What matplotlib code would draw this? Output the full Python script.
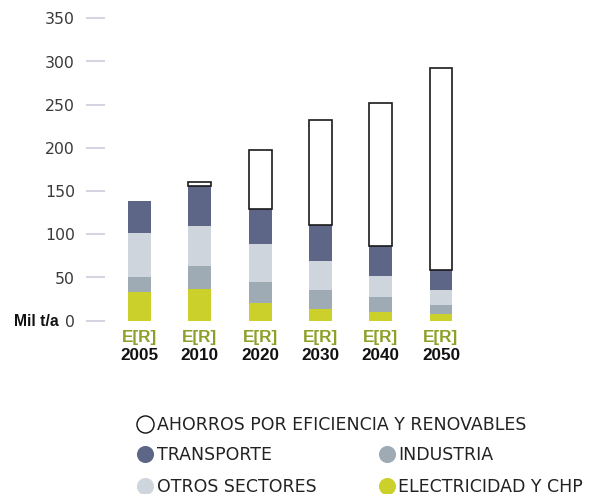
import matplotlib
matplotlib.use("Agg")
import matplotlib.pyplot as plt
import matplotlib.transforms as mtransforms
import numpy as np

years = ["2005", "2010", "2020", "2030", "2040", "2050"]
scenario = ["E[R]"] * 6
electricidad = [33, 37, 20.5, 13.6, 10.1, 7.8]
industria = [17.5, 26.5, 24.3, 22.0, 17.4, 10.4]
otros = [51, 46.3, 44, 33.6, 24.3, 17.4]
transporte = [37, 45.6, 40.6, 41.7, 35.1, 23.1]
ahorros = [0, 5.7, 68, 121.7, 165, 234.1]

series_names = ["ELECTRICIDAD Y CHP", "INDUSTRIA", "OTROS SECTORES", "TRANSPORTE",
                "AHORROS POR EFICIENCIA Y RENOVABLES"]
colors = ["#cbd02b", "#9eaab4", "#ced5dc", "#5e6687", "#ffffff"]
yticks = [0, 50, 100, 150, 200, 250, 300, 350]

W, H = 598, 494
fig = plt.figure(figsize=(W / 100, H / 100), dpi=100)

# main axes in pixel geometry
left_px, right_px = 105, 480
y0_px, ytop_px = 320.7, 18.3
ax = fig.add_axes([left_px / W, (H - y0_px) / H, (right_px - left_px) / W, (y0_px - ytop_px) / H])
x = np.arange(len(years))
step = 60.3
ax.set_xlim((left_px - 139.5) / step, (right_px - 139.5) / step)
ax.set_ylim(0, 350)

bottom = np.zeros(len(years))
data = [electricidad, industria, otros, transporte]
for vals, c in zip(data, colors[:4]):
    ax.bar(x, vals, width=0.38, bottom=bottom, color=c, linewidth=0)
    bottom += np.array(vals)
sav = np.array(ahorros)
mask = sav > 0
ax.bar(x[mask], sav[mask], width=0.38, bottom=bottom[mask], color="white",
       edgecolor="#1a1a1a", linewidth=1.2)

for s in ax.spines.values():
    s.set_visible(False)
ax.set_xticks([])
ax.set_yticks(yticks)
ax.set_yticklabels([str(v) for v in yticks], fontsize=11.3, color="#3a3a3a", family="DejaVu Sans")
ax.tick_params(axis="y", length=13.7, width=1.1, color="#c8c8da", pad=8)

# overlay axes in pixel coordinates
ov = fig.add_axes([0, 0, 1, 1])
ov.set_xlim(0, W)
ov.set_ylim(H, 0)
ov.axis("off")
ov.patch.set_alpha(0)

blend = mtransforms.blended_transform_factory(ax.transData, ov.transData)
for xi, sc, yr in zip(x, scenario, years):
    ov.text(xi, 337, sc, transform=blend, ha="center", va="center", fontsize=12.3,
            fontweight="bold", color="#8da12a", family="Liberation Sans")
    ov.text(xi, 355.5, yr, transform=blend, ha="center", va="center", fontsize=12.3,
            fontweight="bold", color="#111111", family="Liberation Sans")

ov.text(59, 321, "Mil t/a", ha="right", va="center", fontsize=11.3, fontweight="bold",
        color="#111111", family="Liberation Sans")

# legend
legend_items = [
    (series_names[4], colors[4], 144.5, 424, 157),
    (series_names[3], colors[3], 144.5, 454, 157),
    (series_names[1], colors[1], 386.5, 454, 398),
    (series_names[2], colors[2], 144.5, 486, 157),
    (series_names[0], colors[0], 386.5, 486, 398),
]
for name, c, cx, cy, tx in legend_items:
    ec = "#111111" if c == "#ffffff" else c
    ov.plot([cx], [cy], marker="o", markersize=12.3, markerfacecolor=c,
            markeredgecolor=ec, markeredgewidth=1.0 if c == "#ffffff" else 0, linestyle="none")
    ov.text(tx, cy + 0.5, name, ha="left", va="center", fontsize=12.5, color="#222222",
            family="DejaVu Sans")

fig.savefig("out.png", dpi=100)
